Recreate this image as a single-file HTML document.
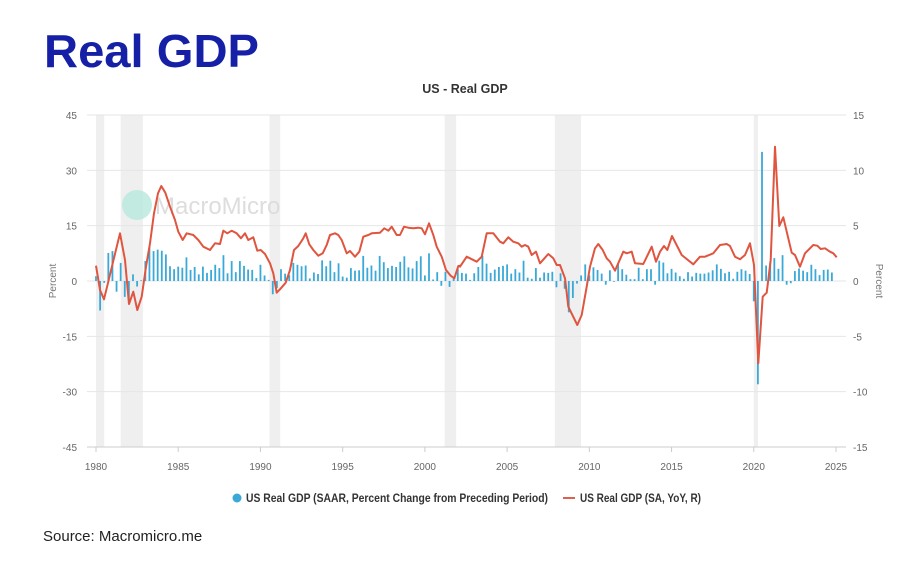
<!DOCTYPE html>
<html><head><meta charset="utf-8"><style>
html,body{margin:0;padding:0;background:#fff;width:920px;height:567px;overflow:hidden}
svg{display:block}
</style></head><body>
<svg id="s" width="920" height="567" xmlns="http://www.w3.org/2000/svg" font-family="Liberation Sans, sans-serif">
<text x="44" y="67" font-size="46" font-weight="bold" fill="#1520a6" textLength="215" lengthAdjust="spacingAndGlyphs">Real GDP</text>
<text x="465" y="93" font-size="12.5" font-weight="bold" fill="#333" text-anchor="middle">US - Real GDP</text>
<g id="g"></g>
<circle cx="137" cy="205" r="15" fill="#b8e8dc" opacity="0.8"/>
<text x="155" y="214" font-size="24" fill="#ddd">MacroMicro</text>
<g id="d"></g>
<g font-size="12" font-weight="bold" fill="#333">
<circle cx="237" cy="498" r="4.5" fill="#3aa9d8"/>
<text x="246" y="502" textLength="302" lengthAdjust="spacingAndGlyphs">US Real GDP (SAAR, Percent Change from Preceding Period)</text>
<line x1="563" y1="498" x2="575" y2="498" stroke="#e06050" stroke-width="2"/>
<text x="580" y="502" textLength="121" lengthAdjust="spacingAndGlyphs">US Real GDP (SA, YoY, R)</text>
</g>
<text x="43" y="541" font-size="15" fill="#222">Source: Macromicro.me</text>
</svg>
<script>
var NS="http://www.w3.org/2000/svg";
function el(t,a,p,txt){var e=document.createElementNS(NS,t);for(var k in a)e.setAttribute(k,a[k]);if(txt!=null)e.textContent=txt;p.appendChild(e);return e;}
var g=document.getElementById('g'),d=document.getElementById('d');
function X(y){return 96+(y-1980)*740/45;}
function Y(v){return 281-v*332/90;}
// recession bands
[[1980.0,1980.5],[1981.5,1982.85],[1990.55,1991.2],[2001.2,2001.9],[2007.9,2009.5],[2020.0,2020.25]].forEach(function(r){
 el('rect',{x:X(r[0]),y:115,width:X(r[1])-X(r[0]),height:332,fill:'#efefef'},g);});
// grid
for(var i=0;i<7;i++){var v=45-15*i,y=Y(v);
 el('line',{x1:87,x2:846,y1:y,y2:y,stroke:'#e6e6e6','stroke-width':1},g);
 el('text',{x:77,y:y+4,'font-size':10,fill:'#666','text-anchor':'end'},g,String(v));
 el('text',{x:853,y:y+4,'font-size':10,fill:'#666'},g,String(15-5*i));}
for(var yr=1980;yr<=2025;yr+=5){var x=X(yr);
 el('line',{x1:x,x2:x,y1:447,y2:452,stroke:'#ccc'},g);
 el('text',{x:x,y:470,'font-size':10,fill:'#666','text-anchor':'middle'},g,String(yr));}
el('line',{x1:87,x2:846,y1:447,y2:447,stroke:'#ccc'},g);
el('text',{x:0,y:0,'font-size':10,fill:'#777','text-anchor':'middle',transform:'translate(56,281) rotate(-90)'},g,'Percent');
el('text',{x:0,y:0,'font-size':10,fill:'#777','text-anchor':'middle',transform:'translate(876,281) rotate(90)'},g,'Percent');
// bars
var b=[1.3,-8,-0.5,7.6,8.1,-2.9,4.9,-4.3,-6.1,1.8,-1.5,0.2,5.4,9.4,8.1,8.5,8.2,7.2,4.0,3.2,3.9,3.6,6.4,3.0,3.8,1.8,3.9,2.2,3.0,4.4,3.5,7.0,2.1,5.4,2.4,5.4,4.1,3.1,3.0,0.8,4.4,1.5,0.3,-3.6,-1.9,3.2,2.0,1.6,4.9,4.4,4.0,4.2,0.7,2.3,1.9,5.6,4.0,5.5,2.4,4.8,1.2,0.9,3.5,2.8,2.9,6.8,3.6,4.2,2.8,6.8,5.1,3.5,4.1,3.8,5.2,6.7,3.7,3.4,5.4,6.7,1.5,7.5,0.4,2.4,-1.3,2.5,-1.6,1.1,3.4,2.2,2.0,0.3,2.1,3.8,6.8,4.7,2.2,3.1,3.8,4.1,4.5,2.0,3.2,2.3,5.5,0.9,0.6,3.5,0.9,2.3,2.2,2.5,-1.7,2.1,-2.1,-8.5,-4.6,-0.7,1.5,4.5,1.5,3.7,3.0,2.0,-1.0,2.9,-0.1,4.7,3.2,1.7,0.5,0.5,3.6,0.5,3.2,3.2,-1.0,5.5,5.0,2.1,3.3,2.3,1.3,0.6,2.4,1.2,2.2,2.0,2.0,2.3,2.9,4.5,3.3,2.1,2.5,0.6,2.5,3.2,2.8,1.9,-5.5,-28,35,4.2,5.2,6.2,3.3,7.0,-1.0,-0.6,2.7,3.4,2.8,2.4,4.4,3.2,1.6,3.0,3.1,2.3];
b.forEach(function(v,i){var x=X(1980+i*0.25)-0.9,y0=Y(0),y1=Y(v);
 el('rect',{x:x,y:Math.min(y0,y1),width:1.8,height:Math.max(0.8,Math.abs(y1-y0)),fill:'#3aa9d8'},d);});
// line
var L=[[168,497],[180,570],[192,598],[205,545],[218,490],[240,400],[255,480],[267,612],[280,575],[292,630],[305,590],[318,500],[330,430],[342,340],[354,280],[364,258],[376,278],[390,320],[405,360],[415,395],[428,420],[440,400],[460,405],[475,420],[490,440],[510,450],[525,430],[540,432],[550,392],[562,400],[575,392],[590,400],[603,415],[615,400],[625,420],[640,412],[652,452],[662,450],[675,462],[690,490],[700,520],[710,578],[720,568],[737,548],[750,510],[762,450],[775,438],[790,415],[797,400],[808,433],[820,450],[835,467],[848,460],[860,435],[870,405],[885,400],[895,405],[905,420],[920,460],[930,453],[945,470],[958,455],[970,410],[985,405],[995,400],[1020,398],[1033,385],[1045,392],[1055,380],[1070,405],[1080,405],[1092,380],[1105,383],[1120,385],[1135,383],[1145,385],[1155,403],[1167,370],[1180,405],[1190,440],[1205,470],[1218,510],[1232,527],[1243,535],[1255,498],[1260,497]];
var R=[[0,500],[20,470],[50,485],[65,470],[80,400],[100,400],[120,425],[130,430],[145,412],[160,425],[175,430],[185,440],[195,435],[205,440],[215,465],[228,455],[240,490],[265,462],[280,475],[290,495],[300,495],[315,535],[325,620],[352,675],[365,645],[380,560],[390,500],[405,445],[415,432],[428,450],[440,475],[450,485],[465,512],[490,455],[500,460],[515,455],[525,490],[550,492],[575,440],[588,485],[600,455],[612,438],[622,450],[636,408],[665,465],[700,493],[720,470],[735,470],[760,460],[780,435],[800,432],[810,438],[825,470],[840,478],[855,465],[870,430],[882,495],[895,790],[908,590],[920,578],[932,480],[945,140],[958,378],[970,352],[995,458],[1005,465],[1020,500],[1035,460],[1060,435],[1072,437],[1082,447],[1095,445],[1110,455],[1120,460],[1130,472]];
var pts=L.map(function(p){return (40+p[0]/3).toFixed(1)+','+(100+p[1]/3).toFixed(1);}).concat(R.map(function(p){return (460+p[0]/3).toFixed(1)+','+(100+p[1]/3).toFixed(1);}));
el('polyline',{points:pts.join(' '),fill:'none',stroke:'#e0553f','stroke-width':2,'stroke-linejoin':'round'},d);
</script>
</body></html>
